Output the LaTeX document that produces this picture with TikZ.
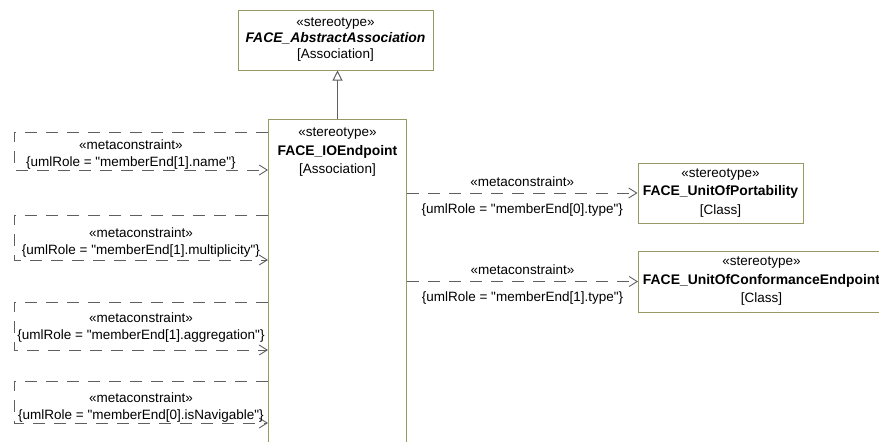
\documentclass[tikz,border=0pt]{standalone}
\usepackage{fontspec}
\setmainfont{Liberation Sans}[Ligatures=TeXOff]
\usetikzlibrary{positioning,arrows.meta}
\definecolor{UMLOlive}{RGB}{153,153,102}
\definecolor{UMLGrey}{RGB}{95,95,95}
\newcommand{\stname}[1]{{\fontsize{13.9}{18.5}\selectfont\bfseries #1}}

\begin{document}
\begin{tikzpicture}[
x=1pt,y=-1pt,
font=\fontsize{13.5}{18.5}\selectfont,
box/.style={rectangle,draw=UMLOlive,fill=white,line width=1pt,align=center,inner sep=2pt},
lbl/.style={align=center,inner sep=1pt,font=\fontsize{13.5}{17}\selectfont},
dep/.style={-{Straight Barb[length=8pt,width=10pt]},draw=UMLGrey,line width=0.9pt,dash pattern=on 12pt off 9pt},
gen/.style={-{Triangle[open,length=10pt,width=10pt]},draw=UMLGrey,line width=1pt}
]
\useasboundingbox (0,0) rectangle (879,442);
\node[box,minimum width=195pt,minimum height=60pt,font=\fontsize{13.5}{16}\selectfont] (abs) at (335.5,40)
  {«stereotype»\\\stname{\itshape FACE\_AbstractAssociation}\\{}[Association]};
\node[box,minimum width=138pt,minimum height=345pt,anchor=north west] (io) at (268,119) {};
\node[align=center,inner sep=1pt,below=8pt of io.north] (iohead)
  {«stereotype»\\\stname{FACE\_IOEndpoint}\\{}[Association]};
\node[box,minimum width=165pt,minimum height=60pt] (uop) at (720.5,193)
  {«stereotype»\\\stname{FACE\_UnitOfPortability}\\{}[Class]};
\node[box,minimum width=246pt,minimum height=61pt,anchor=west] (uce) at (638,281.5)
  {«stereotype»\\\stname{FACE\_UnitOfConformanceEndpoint}\\{}[Class]};

\draw[gen] (io.north) -- (io.north |- abs.south);

\draw[dep] (io.east |- uop.west) -- (uop.west)
  node[midway,above=5pt,lbl] {«metaconstraint»}
  node[midway,below=9pt,lbl] {\{umlRole = "memberEnd[0].type"\}};
\draw[dep] (io.east |- uce.west) -- (uce.west)
  node[midway,above=5pt,lbl] {«metaconstraint»}
  node[midway,below=9pt,lbl] {\{umlRole = "memberEnd[1].type"\}};

\draw[dep] ([yshift=-13pt]io.north west) -- ++(-254,0)
  node[pos=0.54,below=6pt,lbl] {«metaconstraint»\\\{umlRole = "memberEnd[1].name"\}}
  |- ([yshift=-51pt]io.north west);
\draw[dep] ([yshift=-96pt]io.north west) -- ++(-254,0)
  node[pos=0.5,below=11pt,lbl] {«metaconstraint»\\\{umlRole = "memberEnd[1].multiplicity"\}}
  |- ([yshift=-141pt]io.north west);
\draw[dep] ([yshift=-183pt]io.north west) -- ++(-254,0)
  node[pos=0.5,below=9pt,lbl] {«metaconstraint»\\\{umlRole = "memberEnd[1].aggregation"\}}
  |- ([yshift=-231pt]io.north west);
\draw[dep] ([yshift=-262pt]io.north west) -- ++(-254,0)
  node[pos=0.5,below=10pt,lbl] {«metaconstraint»\\\{umlRole = "memberEnd[0].isNavigable"\}}
  |- ([yshift=-304pt]io.north west);
\end{tikzpicture}
\end{document}
